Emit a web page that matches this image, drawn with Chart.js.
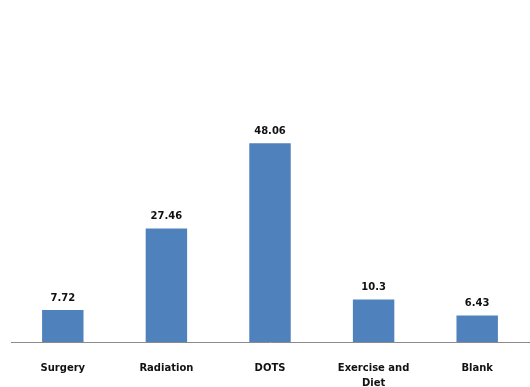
<!DOCTYPE html>
<html>
<head>
<meta charset="utf-8">
<script src="https://cdn.jsdelivr.net/npm/chart.js@4"></script>
<style>
  html, body { margin: 0; padding: 0; background: #fff; overflow: hidden; }
  #wrap { width: 530px; height: 387px; position: relative; }
</style>
</head>
<body>
<div id="wrap"><canvas id="myChart"></canvas></div>
<script>
const categorias = ['Surgery', 'Radiation', 'DOTS', ['Exercise and', 'Diet'], 'Blank'];
const valores = [7.72, 27.46, 48.06, 10.3, 6.43];
const etiquetas = ['7.72', '27.46', '48.06', '10.3', '6.43'];

// etiquetas encima de cada barra
const etiquetasBarras = {
  id: 'etiquetasBarras',
  afterDatasetsDraw(chart) {
    const ctx = chart.ctx;
    const meta = chart.getDatasetMeta(0);
    ctx.save();
    ctx.font = 'bold 10px "DejaVu Sans", sans-serif';
    ctx.fillStyle = '#111';
    ctx.textAlign = 'center';
    ctx.textBaseline = 'bottom';
    meta.data.forEach((bar, i) => {
      ctx.fillText(etiquetas[i], bar.x, bar.y - 7);
    });
    ctx.restore();
  }
};

const config = {
  type: 'bar',
  data: {
    labels: categorias,
    datasets: [{
      data: valores,
      backgroundColor: '#4F81BD',
      borderWidth: 0,
      categoryPercentage: 1,
      barPercentage: 0.4
    }]
  },
  options: {
    responsive: true,
    maintainAspectRatio: false,
    animation: false,
    layout: { padding: { top: 94, left: 11, right: 1, bottom: 0 } },
    plugins: { legend: { display: false }, tooltip: { enabled: false } },
    scales: {
      y: { display: false, min: 0, max: 60 },
      x: {
        grid: { display: false, drawTicks: false },
        border: { display: true, color: '#8a8a8a', width: 1 },
        ticks: {
          color: '#111',
          padding: 19,
          maxRotation: 0,
          autoSkip: false,
          font: { family: '"DejaVu Sans", sans-serif', size: 10, weight: 'bold', lineHeight: 1.5 }
        },
        afterFit(scale) { scale.height = 45; }
      }
    }
  },
  plugins: [etiquetasBarras]
};

new Chart(document.getElementById('myChart'), config);
</script>
</body>
</html>
